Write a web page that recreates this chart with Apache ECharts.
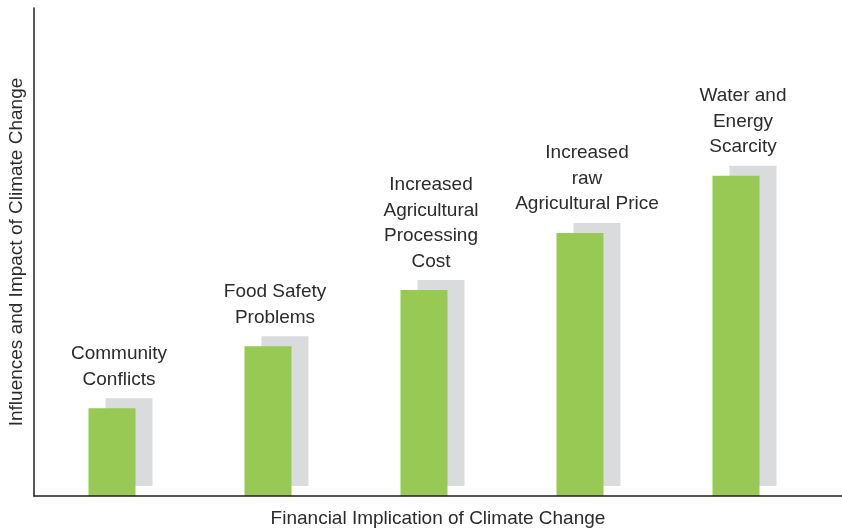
<!DOCTYPE html>
<html>
<head>
<meta charset="utf-8">
<script src="https://cdn.jsdelivr.net/npm/echarts@6/dist/echarts.min.js"></script>
<style>
  html, body { margin: 0; padding: 0; background: #fff; }
  #main { width: 842px; height: 531px; }
</style>
</head>
<body>
<div id="main"></div>
<script>
// categories (the labels sitting above each bar)
var categories = [
  'Community\nConflicts',
  'Food Safety\nProblems',
  'Increased\nAgricultural\nProcessing\nCost',
  'Increased\nraw\nAgricultural Price',
  'Water and\nEnergy\nScarcity'
]
// relative impact, no scale shown on the chart (0 - 10)
var impact = [1.8, 3.07, 4.22, 5.39, 6.56]

var xName = 'Financial Implication of Climate Change'
var yName = 'Influences and Impact of Climate Change'

var myChart = echarts.init(document.getElementById('main'))

var font = 'Liberation Sans, Arial, sans-serif'

var option = {
  animation: false,
  textStyle: { fontFamily: font },
  grid: [
    { left: 34, right: 28, top: 8, bottom: 35, outerBoundsMode: 'none', containLabel: false },
    // full width grid, only used for the axis lines and names
    { left: 34, right: 0, top: 8, bottom: 35, outerBoundsMode: 'none', containLabel: false }
  ],
  xAxis: [
    {
      type: 'category',
      gridIndex: 0,
      data: categories,
      axisLine: { show: false },
      axisTick: { show: false },
      axisLabel: { show: false }
    },
    {
      type: 'value',
      gridIndex: 1,
      min: 0,
      max: 1,
      z: 5,
      name: xName,
      nameLocation: 'middle',
      nameGap: 13,
      nameTextStyle: { fontSize: 19, color: '#2b2b2b', fontFamily: font },
      axisLine: { show: true, lineStyle: { color: '#231f20', width: 1.5 } },
      axisTick: { show: false },
      axisLabel: { show: false },
      splitLine: { show: false }
    }
  ],
  yAxis: [
    {
      type: 'value',
      gridIndex: 0,
      min: 0,
      max: 10,
      axisLine: { show: false },
      axisTick: { show: false },
      axisLabel: { show: false },
      splitLine: { show: false }
    },
    {
      type: 'value',
      gridIndex: 1,
      min: 0,
      max: 1,
      z: 5,
      name: yName,
      nameLocation: 'middle',
      nameGap: 8,
      nameTextStyle: { fontSize: 19, color: '#2b2b2b', fontFamily: font },
      axisLine: { show: true, lineStyle: { color: '#231f20', width: 1.5 } },
      axisTick: { show: false },
      axisLabel: { show: false },
      splitLine: { show: false }
    }
  ],
  series: [
    {
      type: 'bar',
      xAxisIndex: 0,
      yAxisIndex: 0,
      data: impact,
      barWidth: 47,
      itemStyle: {
        color: '#98c954',
        shadowColor: '#dadbdd',
        shadowBlur: 0,
        shadowOffsetX: 17,
        shadowOffsetY: -10
      },
      label: {
        show: true,
        position: 'top',
        distance: 16,
        offset: [7, 0],
        formatter: function (p) { return p.name },
        fontSize: 19,
        lineHeight: 25.5,
        color: '#2b2b2b',
        fontFamily: font
      },
      emphasis: { disabled: true }
    }
  ]
}

myChart.setOption(option)
</script>
</body>
</html>
